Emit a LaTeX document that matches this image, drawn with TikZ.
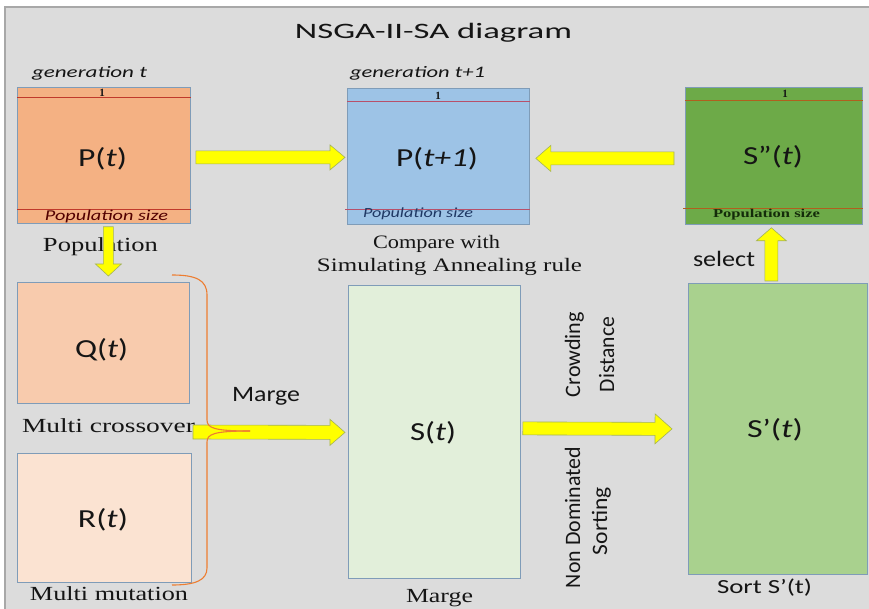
\documentclass[tikz,border=0pt]{standalone}
\usepackage{fontspec}
\usepackage{graphicx}
\setmainfont{Liberation Serif}
\newfontfamily\cf{Carlito}
\usetikzlibrary{calc}
\definecolor{panel}{HTML}{DCDCDC}
\definecolor{paneledge}{HTML}{A8A8A8}
\definecolor{boxedge}{HTML}{7F9CB8}
\definecolor{cP}{HTML}{F4B183}
\definecolor{cQ}{HTML}{F8CBAD}
\definecolor{cR}{HTML}{FBE3D2}
\definecolor{cPone}{HTML}{9DC3E6}
\definecolor{cSpp}{HTML}{6DAA48}
\definecolor{cS}{HTML}{E2EFDA}
\definecolor{cSp}{HTML}{A9D18E}
\definecolor{redP}{HTML}{C0392B}
\definecolor{redPone}{HTML}{B8506A}
\definecolor{redSpp}{HTML}{B0601E}
\definecolor{yel}{HTML}{FFFF00}
\definecolor{yeledge}{HTML}{A3B25A}
\definecolor{bracec}{HTML}{ED7D31}
\definecolor{labelc}{HTML}{151515}
\newcommand\fw[3]{{\fontsize{#1}{#1}\selectfont\resizebox{#2pt}{\height}{#3}}}
\newcommand\barrow[5]{%
  \coordinate (ba-s) at (#1);
  \coordinate (ba-e) at (#2);
  \coordinate (ba-h) at ($(ba-e)!#5!(ba-s)$);
  \draw[yarrow] ($(ba-s)!#3!90:(ba-e)$) -- ($(ba-h)!#3!-90:(ba-s)$) -- ($(ba-h)!#4!-90:(ba-s)$)
    -- (ba-e) -- ($(ba-h)!#4!90:(ba-s)$) -- ($(ba-h)!#3!90:(ba-s)$) -- ($(ba-s)!#3!-90:(ba-e)$) -- cycle;}
\begin{document}
\begin{tikzpicture}[x=1pt,y=-1pt,
  box/.style={draw=boxedge, line width=0.8pt, inner sep=0pt, anchor=north west},
  lbl/.style={inner sep=0pt, anchor=base, text=labelc},
  yarrow/.style={fill=yel, draw=yeledge, line width=0.6pt},
  brace/.style={draw=bracec, line width=1.1pt},
  sep/.style={line width=1pt}]
\useasboundingbox (0,0) rectangle (869,609);
\fill[white] (0,0) rectangle (869,609);
\fill[panel] (5,7) rectangle (869,609);
\draw[paneledge, line width=1.2pt] (869,7) -- (5,7) -- (5,609);

% title
\node[lbl] (title) at (433.5,39) {\cf\fw{22}{277}{NSGA-II-SA diagram}};

% boxes
\node[box, fill=cP, minimum width=173pt, minimum height=136pt] (P) at (17,87) {};
\node[box, fill=cPone, minimum width=182pt, minimum height=136pt] (P1) at (347,88) {};
\node[box, fill=cSpp, minimum width=177pt, minimum height=137pt] (Spp) at (685,87) {};
\node[box, fill=cQ, minimum width=172pt, minimum height=121pt] (Q) at (17,282) {};
\node[box, fill=cR, minimum width=174pt, minimum height=129pt] (R) at (17,453) {};
\node[box, fill=cS, minimum width=172pt, minimum height=293pt] (S) at (348,285) {};
\node[box, fill=cSp, minimum width=179pt, minimum height=291pt] (Sp) at (688,283) {};

% separator lines
\draw[sep, redP] ($(P.north west)+(0,11)$) -- ($(P.north east)+(0,11)$);
\draw[sep, redP] ($(P.south west)+(0,-14)$) -- ($(P.south east)+(0,-14)$);
\draw[sep, redPone] ($(P1.north west)+(0,14)$) -- ($(P1.north east)+(0,14)$);
\draw[sep, redPone] ($(P1.south west)+(-2,-15)$) -- ($(P1.south east)+(0,-15)$);
\draw[sep, redSpp] ($(Spp.north west)+(0,14)$) -- ($(Spp.north east)+(0,14)$);
\draw[sep, redSpp] ($(Spp.south west)+(-2,-16)$) -- ($(Spp.south east)+(0,-16)$);

% small labels in boxes
\node[lbl] (P-one) at (102,97) {\fontsize{11}{11}\selectfont\bfseries 1};
\node[lbl] (P1-one) at (438,100) {\fontsize{11}{11}\selectfont\bfseries 1};
\node[lbl] (Spp-one) at (785,98) {\fontsize{11}{11}\selectfont\bfseries 1};
\node[lbl, text=black!60!red!80!black] (P-size) at (106.5,221) {\cf\itshape\fw{15}{123}{Population size}};
\node[lbl, text={rgb,255:red,31;green,56;blue,100}] (P1-size) at (418,218) {\cf\itshape\fw{14}{110}{Population size}};
\node[lbl, text={rgb,255:red,20;green,44;blue,10}] (Spp-size) at (766.5,218) {\bfseries\fw{12}{107}{Population size}};

% main labels
\node[lbl] (P-lab) at (102.5,167) {\cf\fw{26}{49}{P(\textit{t})}};
\node[lbl] (P1-lab) at (437,167) {\cf\fw{26}{82}{P(\textit{t+1})}};
\node[lbl] (Spp-lab) at (773,165) {\cf\fw{26}{60}{S”(\textit{t})}};
\node[lbl] (Q-lab) at (101.5,357) {\cf\fw{26}{53}{Q(\textit{t})}};
\node[lbl] (R-lab) at (103,527) {\cf\fw{26}{50}{R(\textit{t})}};
\node[lbl] (S-lab) at (433,440) {\cf\fw{26}{46}{S(\textit{t})}};
\node[lbl] (Sp-lab) at (775,437) {\cf\fw{26}{56}{S’(\textit{t})}};

% outside labels
\node[lbl] (gen-t) at (89.5,78) {\cf\itshape\fw{16}{115}{generation t}};
\node[lbl] (gen-t1) at (417.5,78) {\cf\itshape\fw{16}{135}{generation t+1}};
\node[lbl] (pop) at (100.5,252) {\fw{20}{115}{Population}};
\node[lbl] (cmp1) at (436.5,249) {\fw{19}{127}{Compare with}};
\node[lbl] (cmp2) at (449.5,272) {\fw{19}{265}{Simulating Annealing rule}};
\node[lbl] (mcross) at (108.5,432) {\fw{20}{173}{Multi crossover}};
\node[lbl] (mmut) at (109,600) {\fw{20}{158}{Multi mutation}};
\node[lbl] (marge1) at (266,401) {\cf\fw{22}{68}{Marge}};
\node[lbl] (marge2) at (439.5,602) {\fw{20}{67}{Marge}};
\node[lbl] (sort) at (764.5,593) {\cf\fw{20}{95}{Sort S’(t)}};
\node[lbl] (select) at (724,267) {\cf\fw{22}{62}{select}};
\node[lbl, rotate=90] (crowd) at (580,354.5) {\cf\fw{22}{85}{Crowding}};
\node[lbl, rotate=90] (dist) at (614,354.5) {\cf\fw{22}{75}{Distance}};
\node[lbl, rotate=90] (nondom) at (580,517.5) {\cf\fw{22}{141}{Non Dominated}};
\node[lbl, rotate=90] (sorting) at (607,521) {\cf\fw{22}{68}{Sorting}};

% block arrows
\barrow{$(P.east)+(5,2)$}{$(P1.west)+(-2,1)$}{6.5pt}{12.5pt}{15pt}
\barrow{$(Spp.west)+(-11,2.5)$}{$(P1.east)+(6,2)$}{6.5pt}{13pt}{15pt}
\barrow{$(P.south)+(4.5,3)$}{$(Q.north)+(5,-6)$}{5pt}{13pt}{12pt}
\coordinate (btip) at (207,432);
\barrow{$(btip)+(-14,0)$}{$(S.west)+(-3,0.5)$}{7pt}{13pt}{15pt}
\barrow{$(S.east)+(2,-3.5)$}{$(Sp.west)+(-16,0)$}{6.5pt}{15pt}{17pt}
\barrow{$(Sp.north)+(-6.5,-2)$}{$(Spp.south)+(-2.5,3)$}{6.5pt}{15pt}{13pt}

% brace
\draw[brace] (172,275) .. controls (196,275) and (207,280) .. (207,295) -- (207,420)
  .. controls (207,428) and (214,431) .. (250,431);
\draw[brace] (250,431) .. controls (214,431) and (207,434) .. (207,442) -- (207,568)
  .. controls (207,580) and (196,585) .. (172,585);
\end{tikzpicture}
\end{document}
